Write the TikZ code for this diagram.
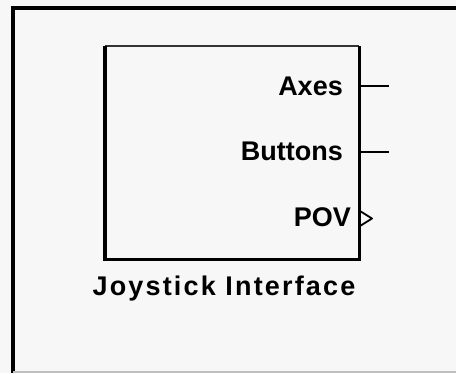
\documentclass[tikz,border=0pt]{standalone}
\usepackage{fontspec}
\setmainfont{Liberation Sans}
\begin{document}
\begin{tikzpicture}[x=1pt,y=-1pt,
  lbl/.style={inner sep=0pt,font=\fontsize{27}{29}\selectfont\bfseries},
  port/.style={line width=2.4pt},
  edge/.style={line width=3.2pt}]
\useasboundingbox (0,0) rectangle (456,373);
\fill[white!97!black] (0,0) rectangle (456,373);
% outer frame
\draw[line width=4.5pt] (13,373) -- (13,8) -- (456,8);
\draw[line width=1.5pt,black!25] (13,372) -- (456,372);
% block
\coordinate (tl) at (105,46);
\node[draw=none,minimum width=254pt,minimum height=213pt,inner sep=0pt,anchor=north west] (blk) at (tl) {};
\draw[line width=1.8pt,black!80] (blk.north west) -- (blk.north east);
\draw[edge] (blk.north west) -- (blk.south west) -- (blk.south east) -- (blk.north east);
% ports
\coordinate (axo) at (389,86);
\coordinate (buo) at (389,152);
\draw[port] (359,86) -- (axo);
\draw[port] (359,152) -- (buo);
\draw[line width=1.8pt,line join=round] (360,211) -- (372,218.5) -- (360,226);
% labels
\node[lbl,anchor=east] (ax) at (343,86) {Axes};
\node[lbl,anchor=east] (bu) at (343,151) {Buttons};
\node[lbl,anchor=east] (pov) at (351,217) {POV};
\node[lbl,anchor=north] (nm) at (224,276) {\addfontfeatures{LetterSpace=8}Joystick Interface};
\end{tikzpicture}
\end{document}
